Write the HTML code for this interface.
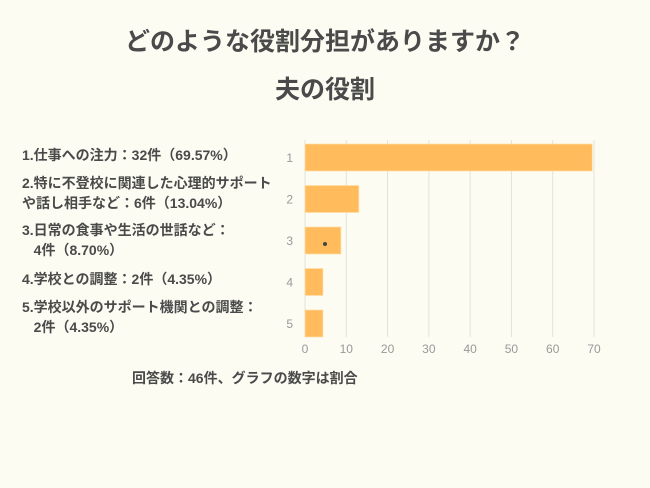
<!DOCTYPE html>
<html><head><meta charset="utf-8"><style>
body{margin:0;width:650px;height:488px;background:#fcfcf3;font-family:"Liberation Sans","Noto Sans CJK JP",sans-serif;color:#4a4a4a;position:relative;overflow:hidden}
.t{position:absolute;left:0;width:650px;text-align:center;font-weight:bold;font-size:25px;line-height:30px}
.lg{position:absolute;left:22px;font-size:14px;font-weight:bold;line-height:20px;white-space:nowrap}
.ft{position:absolute;left:132px;top:368px;font-size:14px;font-weight:bold}
</style></head><body>
<div class="t" style="top:27px">どのような役割分担がありますか？</div>
<div class="t" style="top:75px">夫の役割</div>
<div class="lg" style="top:145px">1.仕事への注力：32件（69.57%）</div>
<div class="lg" style="top:173px">2.特に不登校に関連した心理的サポート<br>や話し相手など：6件（13.04%）</div>
<div class="lg" style="top:220px">3.日常の食事や生活の世話など：<br>&nbsp;&nbsp;&nbsp;4件（8.70%）</div>
<div class="lg" style="top:269px">4.学校との調整：2件（4.35%）</div>
<div class="lg" style="top:297px">5.学校以外のサポート機関との調整：<br>&nbsp;&nbsp;&nbsp;2件（4.35%）</div>
<div class="ft">回答数：46件、グラフの数字は割合</div>
<svg id="c" width="650" height="488" style="position:absolute;left:0;top:0"></svg>
<script>
const categories=["1","2","3","4","5"];
const values=[69.57,13.04,8.70,4.35,4.35];
const ticks=[0,10,20,30,40,50,60,70];
const svg=document.getElementById('c');const NS='http://www.w3.org/2000/svg';
const x=v=>305+v*289/70;
const yTop=i=>144+i*41.5;
function mk(t,a){const e=document.createElementNS(NS,t);for(const k in a)e.setAttribute(k,a[k]);svg.appendChild(e);return e;}
ticks.forEach(t=>{
 if(t>0){const l=mk('line',{x1:x(t),x2:x(t),y1:140,y2:337,stroke:'#e2e2da','stroke-width':1});
 
 }
 const tx=mk('text',{x:x(t),y:353,'text-anchor':'middle','font-size':12,fill:'#999','font-family':'Liberation Sans, sans-serif'});tx.textContent=t;
 
 
});
const ax=mk('line',{x1:305,x2:305,y1:140,y2:337,stroke:'#e2e2da'});


categories.forEach((c,i)=>{
 const r=mk('rect',{x:x(0),y:yTop(i),width:x(values[i])-x(0),height:27,fill:'#ffbb5c',stroke:'#ffe0a8','stroke-width':0.7});
 
 
 const tx=mk('text',{x:293,y:yTop(i)+18,'text-anchor':'end','font-size':12,fill:'#999','font-family':'Liberation Sans, sans-serif'});tx.textContent=c;
 
 
});
const d=mk('circle',{cx:325,cy:244,r:2,fill:'#444'});


</script>
</body></html>
